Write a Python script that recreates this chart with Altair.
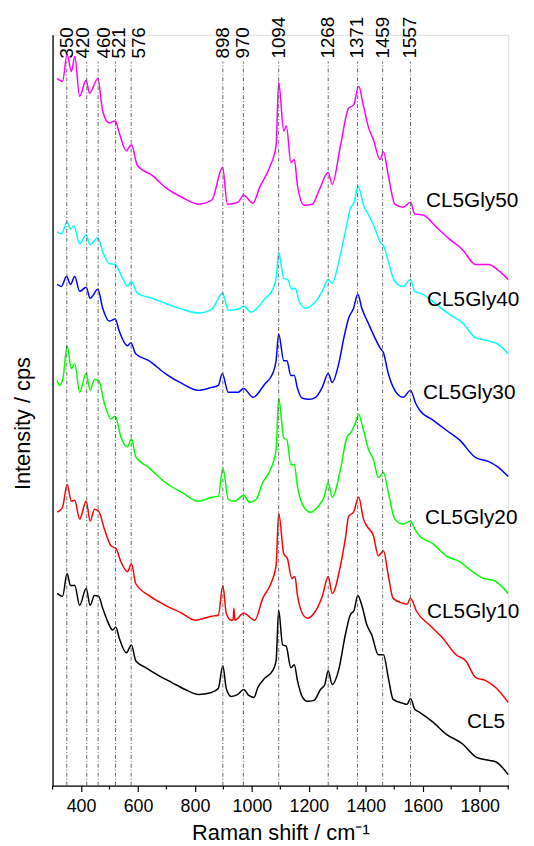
import altair as alt
import pandas as pd

# ---------------- data ----------------
series_names = ["CL5Gly50", "CL5Gly40", "CL5Gly30", "CL5Gly20", "CL5Gly10", "CL5"]
series_colors = ["#FF00FF", "#00FFFF", "#0000FF", "#00FF00", "#FF0000", "#000000"]

x_cl5 = [316, 335, 351, 363, 378, 395, 418, 432, 447, 462, 476, 493, 511, 522, 534, 559, 577, 592, 627, 673,
         719, 766, 812, 858, 882, 898, 910, 927, 951, 971, 989, 1007, 1021, 1044, 1073, 1085, 1094, 1108, 1120, 1137,
         1149, 1160, 1178, 1195, 1218, 1241, 1256, 1268, 1282, 1305, 1328, 1345, 1359, 1372, 1386, 1404, 1421, 1444, 1462, 1479,
         1496, 1531, 1545, 1557, 1572, 1589, 1636, 1682, 1740, 1786, 1821, 1856, 1900]
y_cl5 = [194, 191, 214, 202, 202, 182, 199, 182, 192, 191, 179, 166, 157, 160, 149, 134, 142, 126, 119, 111,
         104, 97, 92, 94, 98, 121, 98, 90, 92, 97, 91, 89, 99, 108, 116, 126, 177, 142, 141, 119,
         122, 106, 89, 85, 86, 97, 102, 116, 102, 117, 152, 172, 177, 192, 182, 162, 152, 132, 132, 109,
         87, 83, 82, 88, 77, 74, 64, 52, 42, 29, 26, 24, 11]

x_gly10 = [316, 335, 351, 366, 378, 395, 418, 432, 447, 462, 482, 505, 523, 540, 563, 577, 592, 638, 696, 754,
           801, 858, 882, 898, 910, 927, 934, 937, 940, 971, 1010, 1038, 1067, 1085, 1094, 1112, 1125, 1140, 1151, 1160,
           1177, 1195, 1218, 1247, 1268, 1282, 1311, 1328, 1340, 1357, 1375, 1392, 1404, 1427, 1444, 1462, 1479, 1496, 1531, 1545,
           1557, 1578, 1624, 1670, 1717, 1751, 1786, 1821, 1856, 1900]
y_gly10 = [276, 281, 304, 287, 288, 269, 287, 267, 279, 277, 259, 242, 239, 226, 216, 224, 204, 192, 182, 174,
           167, 171, 172, 202, 174, 167, 167, 179, 167, 174, 167, 189, 204, 222, 275, 234, 229, 209, 211, 192,
           174, 169, 174, 191, 211, 194, 222, 249, 272, 276, 291, 269, 262, 252, 232, 237, 212, 189, 184, 183,
           189, 176, 162, 149, 132, 126, 109, 106, 99, 84]

x_gly20 = [316, 325, 337, 351, 366, 378, 395, 418, 432, 447, 462, 482, 505, 520, 540, 563, 577, 592, 638, 696,
           754, 812, 858, 882, 898, 917, 940, 971, 992, 1015, 1038, 1062, 1085, 1094, 1112, 1123, 1137, 1149, 1160, 1183,
           1206, 1230, 1253, 1268, 1282, 1311, 1334, 1349, 1363, 1375, 1389, 1410, 1427, 1444, 1462, 1479, 1502, 1531, 1557, 1572,
           1589, 1636, 1682, 1729, 1775, 1815, 1850, 1900]
y_gly20 = [409, 404, 412, 444, 421, 426, 397, 416, 399, 410, 409, 386, 370, 373, 352, 342, 350, 332, 321, 306,
           296, 287, 291, 292, 321, 289, 287, 293, 286, 289, 306, 317, 339, 391, 351, 349, 324, 324, 302, 281,
           276, 281, 291, 306, 291, 319, 352, 357, 366, 375, 362, 339, 329, 311, 316, 296, 269, 264, 267, 259,
           252, 244, 232, 226, 216, 209, 207, 194]

x_gly30 = [316, 331, 349, 363, 378, 395, 418, 432, 459, 476, 499, 520, 534, 563, 575, 592, 638, 696, 754, 812,
           859, 882, 896, 917, 951, 971, 1004, 1044, 1073, 1085, 1094, 1112, 1123, 1137, 1149, 1160, 1177, 1201, 1224, 1247,
           1268, 1282, 1305, 1323, 1340, 1357, 1372, 1386, 1410, 1432, 1450, 1462, 1479, 1502, 1531, 1557, 1575, 1589, 1636, 1682,
           1729, 1786, 1832, 1862, 1900]
y_gly30 = [506, 504, 514, 506, 514, 499, 503, 492, 501, 482, 469, 471, 459, 444, 447, 436, 429, 416, 406, 399,
           402, 404, 416, 397, 397, 401, 392, 405, 416, 429, 456, 429, 429, 414, 414, 401, 391, 390, 392, 402,
           416, 407, 426, 452, 472, 482, 496, 482, 466, 452, 442, 437, 416, 399, 392, 399, 386, 379, 369, 359,
           349, 331, 327, 322, 312]

x_gly40 = [316, 331, 351, 363, 375, 395, 418, 432, 459, 476, 499, 520, 546, 563, 577, 598, 650, 696, 754, 812,
           859, 897, 917, 951, 971, 998, 1044, 1073, 1085, 1094, 1112, 1125, 1140, 1152, 1166, 1189, 1218, 1247, 1268, 1282,
           1305, 1328, 1345, 1359, 1373, 1392, 1410, 1427, 1450, 1464, 1479, 1502, 1531, 1557, 1572, 1601, 1647, 1693, 1740, 1786,
           1832, 1862, 1900]
y_gly40 = [559, 557, 569, 562, 565, 547, 556, 546, 553, 539, 527, 526, 512, 504, 509, 497, 492, 487, 481, 477,
           481, 497, 480, 481, 484, 478, 491, 501, 512, 538, 512, 511, 501, 502, 489, 482, 487, 499, 511, 507,
           529, 559, 582, 589, 605, 586, 576, 566, 549, 544, 529, 509, 504, 511, 499, 496, 486, 476, 467, 452,
           449, 446, 436]

x_gly50 = [316, 335, 351, 366, 378, 395, 418, 430, 459, 476, 499, 520, 534, 559, 577, 598, 650, 696, 754, 812,
           859, 897, 914, 951, 971, 1004, 1027, 1062, 1085, 1094, 1112, 1121, 1137, 1149, 1160, 1183, 1212, 1236, 1268, 1282,
           1311, 1340, 1357, 1375, 1392, 1410, 1427, 1450, 1462, 1479, 1502, 1531, 1557, 1572, 1601, 1647, 1693, 1740, 1786, 1832,
           1862, 1900]
y_gly50 = [714, 711, 738, 721, 736, 696, 712, 699, 714, 681, 669, 671, 659, 641, 647, 626, 616, 604, 594, 587,
           591, 624, 587, 589, 596, 588, 604, 624, 646, 710, 661, 666, 629, 632, 606, 586, 587, 601, 619, 607,
           646, 684, 687, 706, 686, 664, 652, 632, 640, 616, 587, 584, 589, 577, 576, 564, 552, 541, 526, 526,
           521, 511]

# series label anchors (wavenumber, intensity)
label_x = [1611, 1615, 1601, 1608, 1615, 1755]
label_y = [590, 490, 396, 270, 175, 64]

# marked Raman bands
peaks = [350, 420, 460, 521, 576, 898, 970, 1094, 1268, 1371, 1459, 1557]
peak_text_x = [350, 408, 480, 533, 603, 898, 970, 1094, 1268, 1371, 1459, 1557]

major_ticks = [400, 600, 800, 1000, 1200, 1400, 1600, 1800]
minor_ticks = [300, 500, 700, 900, 1100, 1300, 1500, 1700, 1900]

# ---------------- build tables ----------------
xs = [x_gly50, x_gly40, x_gly30, x_gly20, x_gly10, x_cl5]
ys = [y_gly50, y_gly40, y_gly30, y_gly20, y_gly10, y_cl5]
rows = []
for name, xx, yy in zip(series_names, xs, ys):
    for i, (a, b) in enumerate(zip(xx, yy)):
        rows.append({"series": name, "shift": a, "intensity": b, "i": i})
spec_df = pd.DataFrame(rows)

lab_df = pd.DataFrame({"series": series_names, "x": label_x, "y": label_y})
peak_df = pd.DataFrame({"peak": peaks, "tx": peak_text_x, "txt": [str(p) for p in peaks],
                        "y0": [0] * len(peaks), "y1": [731] * len(peaks), "ty": [734] * len(peaks)})
minor_df = pd.DataFrame({"t": minor_ticks, "a": [0] * len(minor_ticks), "b": [-4] * len(minor_ticks)})

FONT = "Liberation Sans"
xscale = alt.Scale(domain=[300, 1900], nice=False, zero=False)
yscale = alt.Scale(domain=[0, 758], nice=False, zero=False)

x_axis = alt.Axis(
    values=major_ticks, format="d",
    tickSize=6, tickColor="black", tickWidth=1.2, domainColor="black", domainWidth=1.3,
    labelFont=FONT, labelFontSize=18, labelColor="black", labelPadding=6,
    grid=False,
    title="Raman shift / cm⁻¹", titleFont=FONT, titleFontSize=22, titleFontWeight="normal",
    titleColor="black", titleY=54, titleBaseline="alphabetic",
)
y_axis = alt.Axis(
    labels=False, ticks=False, grid=False, domainColor="black", domainWidth=1.3,
    title="Intensity / cps", titleFont=FONT, titleFontSize=22, titleFontWeight="normal",
    titleColor="black", titleAngle=270, titleX=-30, titleY=392, titleBaseline="middle", titleAlign="center",
)

X = lambda f: alt.X(f, scale=xscale, axis=x_axis)
Y = lambda f: alt.Y(f, scale=yscale, axis=y_axis)

lines = alt.Chart(spec_df).mark_line(strokeWidth=1.5, interpolate="monotone").encode(
    x=X("shift:Q"),
    y=Y("intensity:Q"),
    color=alt.Color("series:N", scale=alt.Scale(domain=series_names, range=series_colors), legend=None),
    order="i:Q",
)

rules = alt.Chart(peak_df).mark_rule(color="#555555", strokeWidth=0.9, strokeDash=[4, 2, 1, 2]).encode(
    x=X("peak:Q"), y=Y("y0:Q"), y2="y1:Q",
)

minor = alt.Chart(minor_df).mark_rule(color="black", strokeWidth=1.2).encode(
    x=X("t:Q"), y=Y("a:Q"), y2="b:Q",
)

peak_text = alt.Chart(peak_df).mark_text(
    angle=270, align="left", baseline="middle", font=FONT, fontSize=19, color="black"
).encode(x=X("tx:Q"), y=Y("ty:Q"), text="txt:N", size=alt.value(19))

labels = alt.Chart(lab_df).mark_text(
    align="left", baseline="middle", font=FONT, fontSize=21, color="black"
).encode(x=X("x:Q"), y=Y("y:Q"), text="series:N")

chart = alt.layer(lines, rules, minor, peak_text, labels).properties(
    width=460, height=758,
    autosize=alt.AutoSizeParams(type="none"),
    padding={"left": 45, "top": 23, "right": 18, "bottom": 60},
).configure_view(stroke=None).configure(background="white")

chart.save("out.html", embed_options={"renderer": "svg", "actions": False})
